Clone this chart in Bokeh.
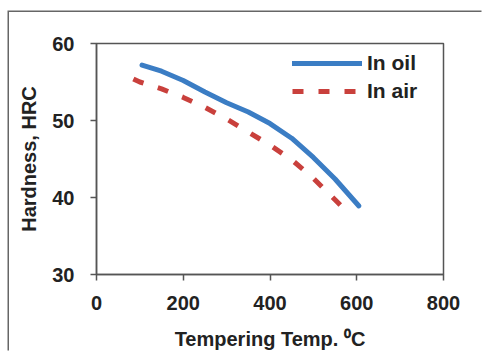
from bokeh.plotting import figure
from bokeh.models import Legend, LegendItem, Range1d, FixedTicker
from bokeh.embed import file_html
from bokeh.resources import INLINE

# ---- data ----
oil_temp = [105, 150, 200, 250, 300, 350, 400, 450, 500, 550, 605]
oil_hrc = [57.2, 56.4, 55.2, 53.7, 52.3, 51.1, 49.6, 47.7, 45.2, 42.4, 38.9]
air_temp = [85, 100, 150, 200, 250, 300, 350, 400, 450, 500, 550, 580]
air_hrc = [55.4, 55.0, 54.1, 53.0, 51.7, 50.2, 48.5, 46.8, 44.9, 42.5, 39.7, 38.0]
x_ticks = [0, 200, 400, 600, 800]
y_ticks = [30, 40, 50, 60]
series_labels = ["In oil", "In air"]

FONT = "Liberation Sans"
TXT = "#222222"
AX = "#555555"
OIL = "#3b7dc4"
AIR = "#c9403c"

# the panel's left/top edges are drawn as a CSS shadow just outside the canvas
p = figure(width=474, height=340, output_backend="svg", toolbar_location=None,
           x_range=Range1d(0, 800), y_range=Range1d(30, 60),
           min_border_left=87, min_border_top=31, min_border_right=40, min_border_bottom=78,
           background_fill_color="white", border_fill_color="white",
           styles={"margin-left": "9px", "margin-top": "12px",
                   "box-shadow": "-1.5px -1.5px 0 0 #666666"})
p.grid.visible = False
p.outline_line_color = AX
p.outline_line_width = 1.5

p.xaxis.ticker = FixedTicker(ticks=x_ticks)
p.yaxis.ticker = FixedTicker(ticks=y_ticks)
for ax in (p.xaxis[0], p.yaxis[0]):
    ax.axis_line_color = AX
    ax.axis_line_width = 1.5
    ax.major_tick_line_color = AX
    ax.major_tick_line_width = 1.5
    ax.major_tick_in = 0
    ax.major_tick_out = 6
    ax.minor_tick_line_color = None
    ax.major_label_text_font = FONT
    ax.major_label_text_font_style = "bold"
    ax.major_label_text_font_size = "20px"
    ax.major_label_text_color = TXT
    ax.axis_label_text_font = FONT
    ax.axis_label_text_font_style = "bold"
    ax.axis_label_text_font_size = "20px"
    ax.axis_label_text_color = TXT

p.xaxis.axis_label = "Tempering Temp. \u2070C"
p.yaxis.axis_label = "Hardness, HRC"
p.xaxis.major_label_standoff = 15
p.xaxis.axis_label_standoff = 15
p.yaxis.major_label_standoff = 16
p.yaxis.axis_label_standoff = 9

r_oil = p.line(oil_temp, oil_hrc, line_color=OIL, line_width=5, line_cap="round", line_join="round")
r_air = p.line(air_temp, air_hrc, line_color=AIR, line_width=5, line_dash="11 15")

legend = Legend(items=[LegendItem(label=series_labels[0], renderers=[r_oil]),
                       LegendItem(label=series_labels[1], renderers=[r_air])],
                location=(196, 171), padding=0, margin=0, spacing=4,
                glyph_width=70, glyph_height=20, label_height=20, label_standoff=5,
                border_line_color=None, background_fill_alpha=0,
                label_text_font=FONT, label_text_font_style="bold",
                label_text_font_size="21px", label_text_color=TXT)
p.add_layout(legend)

open("out.html", "w").write(file_html(p, INLINE))
